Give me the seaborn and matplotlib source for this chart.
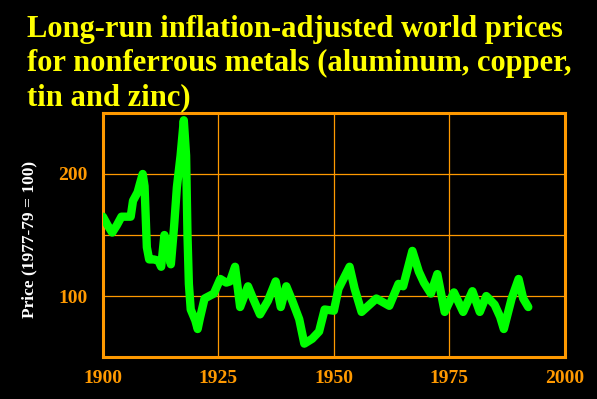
import matplotlib
matplotlib.use("Agg")
import matplotlib.pyplot as plt
import seaborn as sns
import pandas as pd

# Data (index 1977-79 = 100)
years = [1900, 1901, 1902, 1903, 1904, 1906, 1906.5, 1907.5, 1908, 1908.6,
         1909, 1909.5, 1910, 1911, 1912, 1912.6, 1913.3, 1914, 1914.7, 1915.4,
         1916, 1916.8, 1917.5, 1918, 1918.3, 1918.6, 1919, 1920, 1920.5, 1921,
         1922, 1923, 1924, 1925.4, 1926.7, 1927.5, 1928.6, 1929.7, 1931.4, 1932.5,
         1934, 1935.7, 1937.4, 1938.5, 1939.7, 1941, 1942.5, 1943.6, 1945.3, 1946.8,
         1948, 1950, 1951, 1953.4, 1954.5, 1956, 1959.2, 1962, 1964, 1965,
         1967, 1968.4, 1969.5, 1971, 1972.4, 1974, 1976, 1978, 1980, 1981.6,
         1983, 1984.8, 1986, 1986.8, 1988.5, 1990, 1991, 1992.1]
prices = [165, 158, 152, 158, 165, 165, 178, 185, 192, 200,
          190, 140, 130, 130, 129, 124, 150, 138, 126, 157,
          189, 215, 244, 215, 150, 110, 89, 80, 73, 82,
          98, 100, 102, 114, 111, 112, 124, 91, 108, 98,
          85, 96, 112, 91, 108, 96, 81, 61, 65, 71,
          89, 88, 106, 124, 106, 87, 98, 92, 110, 108,
          137, 120, 111, 102, 118, 87, 103, 87, 104, 87,
          100, 93, 83, 73, 98, 114, 98, 91]

x_ticks = [1900, 1925, 1950, 1975, 2000]
y_ticks = [100, 150, 200]
y_tick_labels = ["100", "", "200"]

title = ("Long-run inflation-adjusted world prices\n"
         "for nonferrous metals (aluminum, copper,\n"
         "tin and zinc)")
ylabel = "Price (1977-79 = 100)"

ORANGE = "#FF9900"
GREEN = "#00FF00"
YELLOW = "#FFFF00"

sns.set_style("dark", rc={"axes.facecolor": "black", "figure.facecolor": "black"})
plt.rcParams["font.family"] = ["Liberation Serif", "DejaVu Serif"]

df = pd.DataFrame({"year": years, "price": prices})

fig = plt.figure(figsize=(5.97, 3.99), dpi=100)
fig.patch.set_facecolor("black")
ax = fig.add_axes([0.1725, 0.105, 0.7735, 0.612])
ax.set_facecolor("black")

sns.lineplot(data=df, x="year", y="price", ax=ax, color=GREEN, linewidth=6,
             solid_joinstyle="round", solid_capstyle="round", zorder=3)

ax.set_xlim(1900, 1999)
ax.set_ylim(50, 250)
ax.set_xticks(x_ticks)
ax.set_xticklabels([str(t) for t in x_ticks])
ax.set_yticks(y_ticks)
ax.set_yticklabels(y_tick_labels)

ax.grid(True, color=ORANGE, linewidth=0.9)
ax.set_axisbelow(True)
for s in ax.spines.values():
    s.set_visible(True)
    s.set_color(ORANGE)
    s.set_linewidth(2.2)

ax.tick_params(axis="both", length=0, colors=ORANGE, labelsize=14)
ax.tick_params(axis="y", pad=11)
ax.tick_params(axis="x", pad=9)
for lbl in ax.get_xticklabels() + ax.get_yticklabels():
    lbl.set_fontweight("bold")
    lbl.set_color(ORANGE)

ax.set_xlabel("")
ax.set_ylabel(ylabel, color="white", fontsize=12.5, fontweight="bold")
ax.yaxis.set_label_coords(-0.143, 0.48)

fig.text(0.045, 0.962, title, color=YELLOW, fontsize=22, fontweight="bold",
         ha="left", va="top", linespacing=1.23)

fig.savefig("out.png", dpi=100, facecolor="black")
